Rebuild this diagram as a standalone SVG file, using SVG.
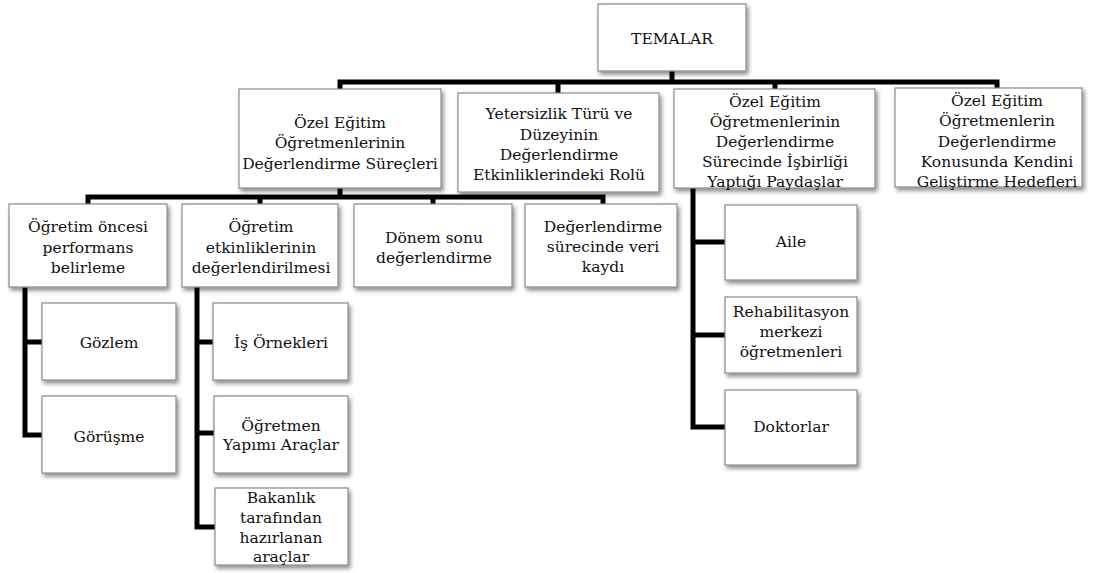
<svg xmlns="http://www.w3.org/2000/svg" width="1096" height="573" viewBox="0 0 1096 573">
<defs>
<filter id="sh" x="-10%" y="-10%" width="125%" height="130%">
<feDropShadow dx="2" dy="3" stdDeviation="2" flood-color="#000" flood-opacity="0.45"/>
</filter>
<style>
.b{fill:#fff;stroke:#8a8a8a;stroke-width:1.2;filter:url(#sh)}
.t{font-family:"DejaVu Serif","Liberation Serif",serif;font-size:15.5px;fill:#111;text-anchor:middle}
.c{fill:none;stroke:#000;stroke-width:5;stroke-linejoin:miter;stroke-linecap:butt}
</style>
</defs>
<rect width="1096" height="573" fill="#fff"/>
<g id="connectors">
<path class="c" d="M672,71 V82"/>
<path class="c" d="M340,92 V82 H997 V88"/>
<path class="c" d="M558,82 V93"/>
<path class="c" d="M775,82 V89"/>
<path class="c" d="M340,188 V197"/>
<path class="c" d="M88,204 V197 H603 V204"/>
<path class="c" d="M260,197 V204"/>
<path class="c" d="M433,197 V204"/>
<path class="c" d="M25,287 V435 H42"/>
<path class="c" d="M25,342 H42"/>
<path class="c" d="M197,287 V527 H215"/>
<path class="c" d="M197,342 H213"/>
<path class="c" d="M197,433 H214"/>
<path class="c" d="M693,188 V427 H725"/>
<path class="c" d="M693,242 H725"/>
<path class="c" d="M693,335 H725"/>
</g>
<g id="temalar"><rect class="b" x="598" y="4" width="148" height="67"/><text class="t" x="672" y="44">TEMALAR</text></g>
<g id="n1"><rect class="b" x="239" y="89" width="202" height="99"/><text class="t"><tspan x="340" y="128">Özel Eğitim</tspan><tspan x="340" y="148">Öğretmenlerinin</tspan><tspan x="340" y="169">Değerlendirme Süreçleri</tspan></text></g>
<g id="n2"><rect class="b" x="458" y="93" width="201" height="99"/><text class="t"><tspan x="559" y="119">Yetersizlik Türü ve</tspan><tspan x="559" y="140">Düzeyinin</tspan><tspan x="559" y="160">Değerlendirme</tspan><tspan x="559" y="180">Etkinliklerindeki Rolü</tspan></text></g>
<g id="n3"><rect class="b" x="674" y="89" width="201" height="99"/><text class="t"><tspan x="775" y="107">Özel Eğitim</tspan><tspan x="775" y="127">Öğretmenlerinin</tspan><tspan x="775" y="147">Değerlendirme</tspan><tspan x="775" y="167">Sürecinde İşbirliği</tspan><tspan x="775" y="187">Yaptığı Paydaşlar</tspan></text></g>
<g id="n4"><rect class="b" x="895" y="88" width="187" height="99"/><text class="t"><tspan x="997" y="106">Özel Eğitim</tspan><tspan x="997" y="126">Öğretmenlerin</tspan><tspan x="997" y="147">Değerlendirme</tspan><tspan x="997" y="167">Konusunda Kendini</tspan><tspan x="997" y="187">Geliştirme Hedefleri</tspan></text></g>
<g id="a1"><rect class="b" x="9" y="204" width="158" height="83"/><text class="t"><tspan x="88" y="232">Öğretim öncesi</tspan><tspan x="88" y="253">performans</tspan><tspan x="88" y="273">belirleme</tspan></text></g>
<g id="a2"><rect class="b" x="182" y="204" width="156" height="83"/><text class="t"><tspan x="261" y="232">Öğretim</tspan><tspan x="261" y="253">etkinliklerinin</tspan><tspan x="261" y="273">değerlendirilmesi</tspan></text></g>
<g id="a3"><rect class="b" x="354" y="204" width="158" height="83"/><text class="t"><tspan x="434" y="243">Dönem sonu</tspan><tspan x="434" y="263">değerlendirme</tspan></text></g>
<g id="a4"><rect class="b" x="525" y="204" width="152" height="83"/><text class="t"><tspan x="603" y="232">Değerlendirme</tspan><tspan x="603" y="252">sürecinde veri</tspan><tspan x="603" y="272">kaydı</tspan></text></g>
<g id="gozlem"><rect class="b" x="42" y="303" width="134" height="77"/><text class="t" x="109" y="348">Gözlem</text></g>
<g id="gorusme"><rect class="b" x="42" y="396" width="134" height="77"/><text class="t" x="109" y="442">Görüşme</text></g>
<g id="is"><rect class="b" x="213" y="303" width="135" height="77"/><text class="t" x="281" y="348">İş Örnekleri</text></g>
<g id="ogretmen"><rect class="b" x="214" y="396" width="134" height="77"/><text class="t"><tspan x="281" y="431">Öğretmen</tspan><tspan x="281" y="450">Yapımı Araçlar</tspan></text></g>
<g id="bakanlik"><rect class="b" x="215" y="488" width="133" height="77"/><text class="t"><tspan x="281" y="503">Bakanlık</tspan><tspan x="281" y="523">tarafından</tspan><tspan x="281" y="543">hazırlanan</tspan><tspan x="281" y="562">araçlar</tspan></text></g>
<g id="aile"><rect class="b" x="725" y="205" width="132" height="75"/><text class="t" x="791" y="247">Aile</text></g>
<g id="rehab"><rect class="b" x="725" y="297" width="132" height="76"/><text class="t"><tspan x="791" y="317">Rehabilitasyon</tspan><tspan x="791" y="337">merkezi</tspan><tspan x="791" y="357">öğretmenleri</tspan></text></g>
<g id="doktorlar"><rect class="b" x="725" y="390" width="132" height="75"/><text class="t" x="791" y="432">Doktorlar</text></g>
</svg>
